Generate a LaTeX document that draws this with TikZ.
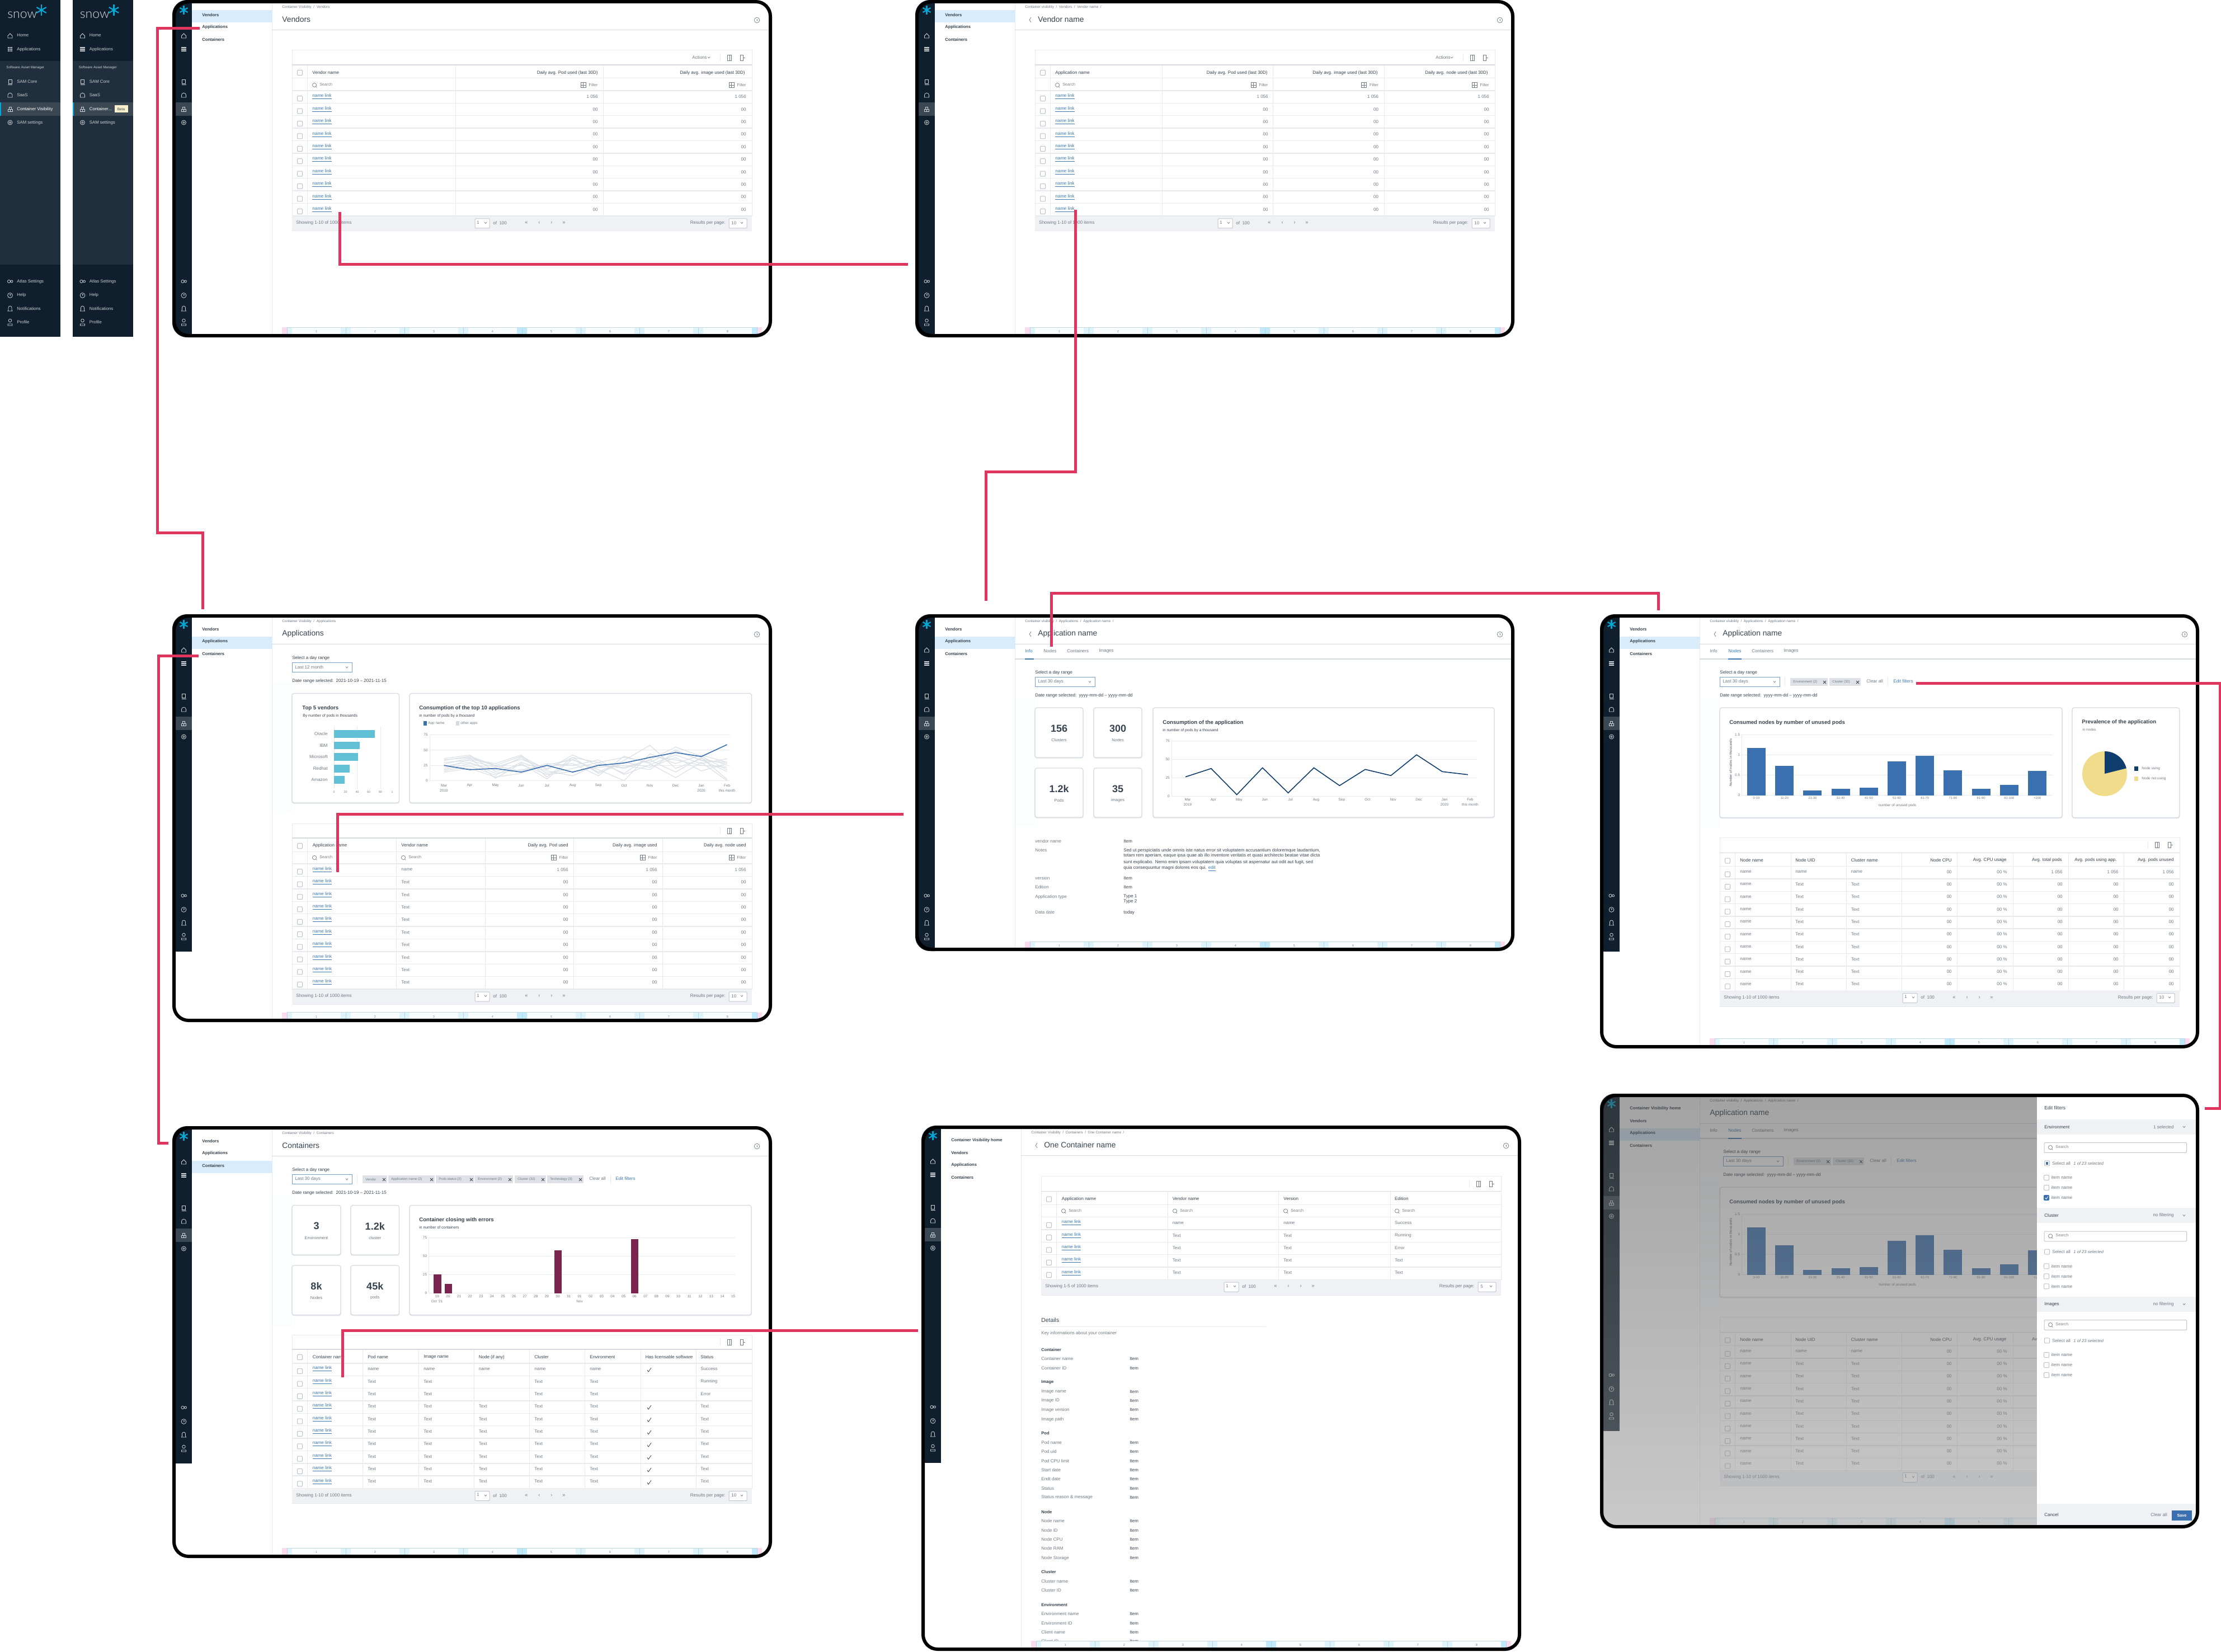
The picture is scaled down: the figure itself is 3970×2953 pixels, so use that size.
\documentclass[tikz,border=0pt]{standalone}
\usepackage{fontspec}
\setmainfont{Liberation Sans}
\newfontfamily\logofont{Lato Light}

\definecolor{raildark}{HTML}{0F1F2D}
\definecolor{railmid}{HTML}{1F2F3D}
\definecolor{railon}{HTML}{3A4853}
\definecolor{snowcyan}{HTML}{00A9D6}
\definecolor{navon}{HTML}{D9ECFB}
\definecolor{inktxt}{HTML}{36424E}
\definecolor{graytxt}{HTML}{6F7A85}
\definecolor{linkblue}{HTML}{3C78B4}
\definecolor{hairline}{HTML}{E6E9ED}
\definecolor{headline}{HTML}{D5DAE1}
\definecolor{barband}{HTML}{EFF1F4}
\definecolor{chipgray}{HTML}{DEE2E6}
\definecolor{teal}{HTML}{62C0D6}
\definecolor{barblue}{HTML}{3A6FB0}
\definecolor{navyline}{HTML}{0F3D6E}
\definecolor{plum}{HTML}{7A2450}
\definecolor{sand}{HTML}{F1DC8C}
\definecolor{flowred}{HTML}{E0355F}
\definecolor{shade}{HTML}{374855}
\definecolor{palecol}{HTML}{FAFEFF}

\tikzset{
  txt/.style={inner sep=0pt,anchor=west,text=graytxt,font=\fontsize{4}{4.8}\selectfont},
  hdr/.style={text=inktxt},
  rgt/.style={anchor=east},
  mid/.style={anchor=center},
  lnk/.style={text=linkblue},
  crumb/.style={font=\fontsize{3.2}{4}\selectfont},
  ttl/.style={text=inktxt,font=\fontsize{6.9}{8}\selectfont},
  cardttl/.style={text=inktxt,font=\bfseries\fontsize{4.8}{6}\selectfont},
  cardsub/.style={text=inktxt,font=\fontsize{3.4}{4}\selectfont},
  ax/.style={anchor=center,font=\fontsize{3.2}{4}\selectfont},
  bignum/.style={anchor=center,text=inktxt,font=\bfseries\fontsize{9}{10}\selectfont},
  navtxt/.style={text=inktxt,font=\bfseries\fontsize{3.8}{4.6}\selectfont},
  striptxt/.style={text=white!78!raildark,font=\fontsize{3.9}{4.6}\selectfont},
  hair/.style={draw=hairline,line width=.5pt},
  headrule/.style={draw=headline,line width=.9pt},
  cardbox/.style={draw=headline,fill=white,line width=.6pt,rounded corners=1.8pt,
    preaction={draw=hairline,line width=.7pt,transform canvas={yshift=-.6pt}}},
  thinbox/.style={draw=headline!80!graytxt,fill=white,line width=.5pt,rounded corners=.6pt},
  navicon/.style={draw=white!80!raildark,fill=none,line width=.4pt},
  tinyicon/.style={draw=graytxt,fill=none,line width=.35pt},
  frameline/.style={draw=black,line width=3pt,rounded corners=13pt},
  flow/.style={draw=flowred,line width=2.5pt},
}

\newcounter{lblno}
\newcommand{\lbl}[3][]{\stepcounter{lblno}\node[txt,#1] (lbl\arabic{lblno}) at (#2) {#3};}
\newcommand{\nlink}{\underline{name link}}

%% one framed page of the flow
\newenvironment{screen}[5]{%
  \def\scrw{#4}\def\scrh{#5}%
  \begin{scope}[shift={(#2,#3)}]
  \coordinate (#1) at (0,0);
  \fill[white,rounded corners=13pt] (0,0) rectangle (\scrw,\scrh);
  \begin{scope}
  \clip[rounded corners=13pt] (0,0) rectangle (\scrw,\scrh);
  \fill[raildark] (0,0) rectangle (35,603);
  \fill[railon] (6,183) rectangle (35,207);
  \snowmark{20.5}{18}{4pt}
  \navicons{20.5}
}{%
  \end{scope}
  \draw[frameline] (3,3) rectangle ({\scrw-3},{\scrh-3});
  \end{scope}}

\newcommand{\snowmark}[3]{\foreach \a in {90,30,-30}
  \draw[snowcyan,line width=1.1pt] (#1,#2) ++(\a:#3) -- ++(\a+180:2*#3);}

\newcommand{\navicons}[1]{\begin{scope}[shift={(#1,0)},every path/.style={navicon}]
  \draw (-4,64) -- (0,60) -- (4,64) -- (4,68) -- (-4,68) -- cycle;
  \foreach \a in {-3,0,3} \foreach \b in {85,88,91} \draw[fill=white!80!raildark] ({\a-.8},{\b-.8}) rectangle ++(1.6,1.6);
  \draw (-3,142) rectangle (3,149) (-4,151) -- (4,151);
  \draw (-4,174) -- (-4,170) .. controls (-4,165) and (4,165) .. (4,170) -- (4,174) -- cycle;
  \draw (-4,199) rectangle (4,195) (-2,195) rectangle (2,191) (0,195) -- (0,199);
  \draw (0,219) circle[radius=2pt] (0,219) circle[radius=.8pt];
  \draw (-2,503) circle[radius=1.3pt] (3,503) circle[radius=1pt];
  \draw (0,528) circle[radius=2.2pt] (-1,526.5) -- (1,526.5) -- (0,529);
  \draw (-4,556) -- (-3,554) -- (-3,550) .. controls (-3,546) and (3,546) .. (3,550) -- (3,554) -- (4,556) -- cycle;
  \draw (0,573) circle[radius=1.4pt] (-4,582) -- (-4,579) -- (4,579) -- (4,582) -- cycle;
\end{scope}}

\newcommand{\snowstrip}[2]{\begin{scope}[shift={(#1,0)}]
  \fill[raildark] (0,0) rectangle (108,602);
  \fill[railmid] (0,109) rectangle (108,473);
  \fill[railon] (0,183) rectangle (108,207);
  \fill[snowcyan] (0,183) rectangle (2,207);
  \lbl[text=white!85!raildark,font=\logofont\fontsize{11.5}{13}\selectfont]{13,27}{snow}
  \snowmark{74}{18}{5pt}
  \navicons{18}
  \foreach \y/\t in {63/Home,88/Applications,146/SAM Core,170/SaaS,219/SAM settings,503/Atlas Settings,527.5/Help,552/Notifications,576/Profile}
    {\lbl[striptxt]{30,\y}{\t}}
  \lbl[striptxt,font=\fontsize{3.1}{4}\selectfont]{11,121}{Software Asset Manager}
  #2
\end{scope}}

\newcommand{\subnav}[2]{%
  \draw[hair] (178,0) -- (178,\scrh);
  \ifnum#1>0 \fill[navon] (35,{18+22*(#1-1)}) rectangle (178,{40+22*(#1-1)});\fi
  \foreach \t [count=\c from 0] in {#2} {\lbl[navtxt]{53,{27+22*\c}}{\t}}}

\newcommand{\paleband}[2]{\fill[palecol] (178.5,#1) rectangle (214,#2);}
\newcommand{\helpicon}{\draw[tinyicon] (1045,36) circle[radius=2.4pt] (1044,35) -- (1046,35) -- (1045,38);}
\newcommand{\pagehead}[2]{%
  \lbl[crumb]{196,13}{#1}
  \lbl[ttl]{196,35}{#2}
  \draw[headrule] (178,53.5) -- (\scrw,53.5);
  \helpicon}
\newcommand{\backhead}[2]{%
  \lbl[crumb]{196,13}{#1}
  \lbl[ttl]{219,35}{#2}
  \draw[tinyicon] (207,31) -- (204,35.5) -- (207,40);
  \draw[headrule] (178,53.5) -- (\scrw,53.5);
  \helpicon}

\newcommand{\gridstrip}[1]{%
  \fill[magenta!14] (196,#1) rectangle (1054,{#1+20});
  \fill[cyan!2] (205,#1) rectangle (1045,{#1+20});
  \foreach \i in {0,...,8} {
    \pgfmathsetmacro{\gx}{205+105*\i}
    \ifnum\i=4 \colorlet{bandc}{cyan!25}\else\ifnum\i=8 \colorlet{bandc}{cyan!25}\else\colorlet{bandc}{cyan!13}\fi\fi
    \ifnum\i=0 \fill[bandc] (\gx,#1) rectangle ({\gx+9},{#1+20});
    \else\ifnum\i=8 \fill[bandc] ({\gx-9},#1) rectangle (\gx,{#1+20});
    \else \fill[bandc] ({\gx-9},#1) rectangle ({\gx+9},{#1+20});\fi\fi
    \draw[cyan!30!gray!45,line width=.5pt] (\gx,#1) -- (\gx,{#1+20});
  }
  \draw[cyan!30!gray!40,line width=.5pt] (205,#1) -- (1045,#1);
  \foreach \i in {1,...,8} {\lbl[ax,text=gray,font=\fontsize{2.8}{3}\selectfont]{{152.5+105*\i},{#1+8}}{\i}}}

\newcommand{\chevd}[2]{\draw[tinyicon] ({#1-2},{#2-1.5}) -- ({#1},{#2+1}) -- ({#1+2},{#2-1.5});}
\newcommand{\checkbox}[2]{\draw[thinbox,draw=headline!75!graytxt] ({#1-4.5},{#2-4.5}) rectangle ({#1+4.5},{#2+4.5});}
\newcommand{\tickmark}[2]{\draw[inktxt,line width=.4pt] ({#1-3},{#2}) -- ({#1-1},{#2+3}) -- ({#1+4},{#2-4});}
\newcommand{\searchcell}[2]{%
  \draw[tinyicon] ({#1},{#2}) circle[radius=1.8pt] ({#1+2.5},{#2+2.5}) -- ({#1+4},{#2+4.5});
  \lbl[text=gray,font=\fontsize{3.6}{4}\selectfont]{{#1+9},{#2-1}}{Search}}
\newcommand{\filtercell}[2]{%
  \lbl[rgt,text=gray,font=\fontsize{3.6}{4}\selectfont]{#1,#2}{Filter}
  \draw[tinyicon] ({#1-31},{#2-4.5}) rectangle ({#1-22},{#2+4.5}) ({#1-26.5},{#2-4.5}) -- ({#1-26.5},{#2+4.5}) ({#1-31},#2) -- ({#1-22},#2);}

%% x0, x1, top of toolbar, head rule, first row line, pitch, rows, column rules
\newcommand{\tabframe}[8]{%
  \draw[hair] (#1,#3) rectangle (#2,{#5+#6*#7});
  \foreach \r in {0,...,#7} {\draw[hair,line width=.7pt] (#1,{#5+#6*\r}) -- (#2,{#5+#6*\r});}
  \foreach \k in {#8} {\draw[hair] (\k,#4) -- (\k,{#5+#6*#7});}
  \draw[headrule] (#1,#4) -- (#2,#4);
  \checkbox{228}{#4+14}
  \foreach \r in {1,...,#7} {\checkbox{228}{#5+#6*(\r-.5)+3}}
  \pgfmathsetmacro{\ty}{(#3+#4)/2}
  \draw[hair] ({#2-57},{\ty-6}) -- ({#2-57},{\ty+6});
  \draw[tinyicon] ({#2-43.5},{\ty-5}) rectangle ({#2-36.5},{\ty+5}) ({#2-40},{\ty-5}) -- ({#2-40},{\ty+5});
  \draw[tinyicon] ({#2-21},{\ty-5}) -- ({#2-16},{\ty-5}) -- ({#2-16},{\ty+5}) -- ({#2-21},{\ty+5}) -- cycle ({#2-16},\ty) -- ({#2-12},\ty);}

\newcommand{\tabcol}[7][]{%
  \lbl[#1]{#2,#3}{#6}
  \foreach \r in {1,...,#5} {\lbl[#1]{#2,{#3+#4*\r}}{#7}}}

\newcommand{\pager}[4]{%
  \fill[barband] (214,#1) rectangle (1036,#2);
  \draw[hair] (214,#2) -- (1036,#2);
  \pgfmathsetmacro{\py}{#1+11.5}
  \lbl{221,\py}{#3}
  \draw[thinbox] (541,{#1+4}) rectangle (567,{#1+21});
  \lbl{544,{\py-1}}{1}
  \chevd{560}{\py}
  \lbl{573,\py}{of\ \ 100}
  \foreach \x/\m in {633/«,656/‹,678/›,700/»} {\lbl[mid,font=\fontsize{4.6}{5}\selectfont]{\x,\py}{\m}}
  \lbl[rgt]{989,\py}{Results per page:}
  \draw[thinbox] (995,{#1+4}) rectangle (1027,{#1+21});
  \lbl{999,\py}{#4}
  \chevd{1018}{\py}}

\newcommand{\rangepick}[4]{%
  \lbl[hdr]{#1,#2}{Select a day range}
  \draw[draw=linkblue!70,fill=white,line width=.5pt] (#1,{#2+8.5}) rectangle ({#1+107},{#2+25.5});
  \lbl{{#1+5},{#2+16.5}}{#3}
  \chevd{#1+98}{#2+17}
  \lbl[hdr]{#1,{#2+41}}{#4}}

\newcommand{\chip}[4]{%
  \fill[chipgray] (#1,#3) rectangle (#2,{#3+14});
  \lbl[font=\fontsize{3}{3.6}\selectfont]{{#1+5},{#3+7}}{#4}
  \draw[inktxt,line width=.4pt] ({#2-8},{#3+5}) -- ({#2-3},{#3+10}) ({#2-3},{#3+5}) -- ({#2-8},{#3+10});}

\newcommand{\statcard}[6]{%
  \draw[cardbox] (#1,#2) rectangle (#3,#4);
  \lbl[bignum]{{(#1+#3)/2},{#2+37}}{#5}
  \lbl[ax,font=\fontsize{3.7}{4.2}\selectfont]{{(#1+#3)/2},{#2+58}}{#6}}

\newcommand{\hgrid}[5]{\foreach \t [count=\c from 0] in {#5} {
    \draw[hair] (#1,{#3+(#4-#3)*\c/3}) -- (#2,{#3+(#4-#3)*\c/3});
    \lbl[rgt,font=\fontsize{3.2}{4}\selectfont]{{#1-3},{#3+(#4-#3)*\c/3}}{\t}}
  \draw[hair] (#1,#3) -- (#1,#4);}

\newcommand{\monthaxis}[4]{%
  \foreach \m [count=\c from 0] in {Mar,Apr,May,Jun,Jul,Aug,Sep,Oct,Nov,Dec,Jan,Feb} {\lbl[ax]{{#1+#2*\c},#3}{\m}}
  \lbl[ax]{#1,#4}{2019}
  \lbl[ax]{{#1+#2*10},#4}{2020}
  \lbl[ax]{{#1+#2*11},#4}{this month}}

\newcommand{\plotline}[7]{\draw[#1] ({#2},{#4-#5*#6}) \foreach \v [count=\c] in #7 { -- ({#2+#3*\c},{#4-#5*\v}) };}

\newcommand{\tabbar}[1]{%
  \foreach \x/\t [count=\c] in {196/Info,229/Nodes,271/Containers,328/Images} {
    \ifnum\c=#1 \colorlet{tabc}{linkblue}\else\colorlet{tabc}{graytxt}\fi
    \lbl[text=tabc]{\x,66}{\t}}
  \draw[headrule] (178,80) -- (\scrw,80);
  \ifnum#1=1 \draw[linkblue,line width=.8pt] (196,80) -- (212,80);\else \draw[linkblue,line width=.8pt] (229,80) -- (253,80);\fi}

%% body of the Nodes tab, shared with the page under the filter drawer
\newcommand{\nodesbody}[1]{%
  \paleband{150}{383}
  \begin{scope}[shift={(#1,0)}]
  \rangepick{214}{104}{Last 30 days}{Date range selected:\ \ yyyy-mm-dd – yyyy-mm-dd}
  \draw[hair] (330,112) -- (330,129);
  \chip{340}{407}{114}{Environment (2)}
  \chip{410}{466}{114}{Cluster (32)}
  \lbl{476,120}{Clear all}
  \draw[hair] (514,112) -- (514,129);
  \lbl[lnk]{524,120}{Edit filters}
  \end{scope}
  \draw[cardbox] (214,167) rectangle (826,363.5);
  \lbl[cardttl]{231,194}{Consumed nodes by number of unused pods}
  \hgrid{253.5}{808.5}{215}{323.7}{1.5,1,0.5,0}
  \foreach \bh/\bt [count=\c from 0] in {85/0-10,53/11-20,9/21-30,12/31-40,13.5/41-50,61/51-60,71/61-70,45/71-80,12/81-90,19/91-100,44/+100} {
    \fill[barblue] ({263+50.2*\c},{323.7-\bh}) rectangle ({296+50.2*\c},323.7);
    \lbl[ax,font=\fontsize{2.9}{3.4}\selectfont]{{279.5+50.2*\c},328.5}{\bt}}
  \lbl[ax,rotate=90,font=\bfseries\fontsize{2.9}{3.4}\selectfont]{233.5,265}{Number of nodes in thousands}
  \lbl[ax]{531.5,341.5}{number of unused pods}
  \draw[cardbox] (844,167) rectangle (1035.7,363.5);
  \lbl[cardttl]{861,193}{Prevalence of the application}
  \lbl[crumb]{862,206}{in nodes}
  \fill[sand] (902,285) circle[radius=20pt];
  \fill[navyline] (902,285) -- ++(90:20pt) arc[start angle=90,end angle=14,radius=20pt] -- cycle;
  \fill[navyline] (955,272) rectangle (962,280);
  \fill[sand] (955,290) rectangle (962,298);
  \lbl[crumb]{968,276}{Node using}
  \lbl[crumb]{968,294}{Node not using}
  \tabframe{214}{1036}{399}{426.5}{450.6}{22.3}{10}{241,341,440,539,638.5,738,837,936}
  \foreach \x/\t in {250/Node name,349/Node UID,448.5/Cluster name} {\lbl[hdr]{\x,439.5}{\t}}
  \foreach \x/\t in {629/Node CPU,727/Avg. CPU usage,826/Avg. total pods,924/Avg. pods using app.,1026/Avg. pods unused} {\lbl[hdr,rgt]{\x,439.5}{\t}}
  \tabcol{250}{460.5}{22.3}{9}{name}{name}
  \tabcol{349}{460.5}{22.3}{9}{name}{Text}
  \tabcol{448.5}{460.5}{22.3}{9}{name}{Text}
  \tabcol[rgt]{629}{460.5}{22.3}{9}{00}{00}
  \tabcol[rgt]{728}{460.5}{22.3}{9}{00 \%}{00 \%}
  \tabcol[rgt]{827}{460.5}{22.3}{9}{1 056}{00}
  \tabcol[rgt]{927}{460.5}{22.3}{9}{1 056}{00}
  \tabcol[rgt]{1026}{460.5}{22.3}{9}{1 056}{00}
  \pager{673.5}{701}{Showing 1-10 of 1000 items}{10}
  \gridstrip{758}}

\newcommand{\filtersec}[3]{%
  \fill[barband] (780.7,#1) rectangle (1071,{#1+26.8});
  \lbl[hdr]{794,{#1+13.5}}{#2}
  \lbl[rgt]{1026,{#1+13.5}}{#3}
  \chevd{1044}{#1+13.5}
  \draw[thinbox] (794,{#1+41.6}) rectangle (1048.6,{#1+59.4});
  \searchcell{805}{#1+50}
  \checkbox{799}{#1+78.3}
  \lbl{808,{#1+78.3}}{Select all}
  \lbl[font=\itshape\fontsize{3.8}{4.4}\selectfont]{846,{#1+78.3}}{1 of 23 selected}
  \foreach \y in {104,122,140} {\checkbox{798}{#1+\y} \lbl{806.5,{#1+\y}}{item name}}}

\begin{document}
\begin{tikzpicture}[x=0.5pt,y=-0.5pt]
  \path[use as bounding box,fill=white] (0,0) rectangle (3970,2953);

  %% the two states of the product menu
  \snowstrip{0}{\lbl[striptxt,text=white]{30,195}{Container Visibility}}
  \snowstrip{129.5}{\lbl[striptxt,text=white]{30,195}{Container...}
    \fill[sand!45] (75,188) rectangle (99,201.5);
    \lbl[ax,text=inktxt]{87,195}{Beta}}

  %% Vendors
  \begin{screen}{vendors}{308}{0}{1072}{603}
    \subnav{1}{Vendors,Applications,Containers}
    \pagehead{Container Visibility\ \ /\ \ Vendors}{Vendors}
    \tabframe{214}{1036}{90}{116}{162}{22.4}{10}{241,506,770}
    \draw[hair] (214,140) -- (1036,140);
    \lbl{929,103}{Actions}
    \chevd{959}{103}
    \lbl[hdr]{250,130}{Vendor name}
    \lbl[hdr,rgt]{761,130}{Daily avg. Pod used (last 30D)}
    \lbl[hdr,rgt]{1024,130}{Daily avg. image used (last 30D)}
    \searchcell{254}{152}
    \filtercell{761}{152}
    \filtercell{1026}{152}
    \tabcol[lnk]{250}{173}{22.4}{9}{\nlink}{\nlink}
    \tabcol[rgt]{761}{173}{22.4}{9}{1 056}{00}
    \tabcol[rgt]{1026}{173}{22.4}{9}{1 056}{00}
    \pager{387}{413}{Showing 1-10 of 1000 items}{10}
    \gridstrip{585}
  \end{screen}

  %% Vendor name
  \begin{screen}{vendorname}{1636}{0}{1071}{603}
    \subnav{1}{Vendors,Applications,Containers}
    \backhead{Container visibility\ \ /\ \ Vendors\ \ /\ \ Vendor name\ \ /}{Vendor name}
    \tabframe{214}{1036}{90}{116}{162}{22.4}{10}{241,441,639,838}
    \draw[hair] (214,140) -- (1036,140);
    \lbl{930,103}{Actions}
    \chevd{959}{103}
    \lbl[hdr]{250,130}{Application name}
    \lbl[hdr,rgt]{630,130}{Daily avg. Pod used (last 30D)}
    \lbl[hdr,rgt]{827,130}{Daily avg. image used (last 30D)}
    \lbl[hdr,rgt]{1024,130}{Daily avg. node used (last 30D)}
    \searchcell{254}{152}
    \filtercell{631}{152}
    \filtercell{828.5}{152}
    \filtercell{1026}{152}
    \tabcol[lnk]{250}{173}{22.4}{9}{\nlink}{\nlink}
    \tabcol[rgt]{631}{173}{22.4}{9}{1 056}{00}
    \tabcol[rgt]{828.5}{173}{22.4}{9}{1 056}{00}
    \tabcol[rgt]{1026}{173}{22.4}{9}{1 056}{00}
    \pager{387}{413}{Showing 1-10 of 1000 items}{10}
    \gridstrip{585}
  \end{screen}

  %% Applications
  \begin{screen}{applications}{308}{1098}{1072}{729}
    \subnav{2}{Vendors,Applications,Containers}
    \pagehead{Container Visibility\ \ /\ \ Applications}{Applications}
    \paleband{122}{355}
    \rangepick{214}{78}{Last 12 month}{Date range selected:\ \ 2021-10-19 – 2021-11-15}
    \draw[cardbox] (214,141.5) rectangle (405.5,337);
    \lbl[cardttl]{232,168.5}{Top 5 vendors}
    \lbl[cardsub]{233,182}{By number of pods in thousands}
    \foreach \x in {289,330.5,372} {\draw[hair] (\x,200) -- (\x,312);}
    \foreach \t/\ya/\yb/\e in {Oracle/207/221/362,IBM/228/241/335,Microsoft/248/262/332,Redhat/269/282.5/317,Amazon/289/303/308} {
      \fill[teal] (289,\ya) rectangle (\e,\yb);
      \lbl[rgt]{278,{(\ya+\yb)/2}}{\t}}
    \foreach \x/\t in {289/0,309.5/20,330.5/40,351/60,372/80,393/1} {\lbl[ax,font=\fontsize{2.6}{3}\selectfont]{\x,318}{\t}}
    \draw[cardbox] (424,141.5) rectangle (1035.5,337);
    \lbl[cardttl]{441,168.5}{Consumption of the top 10 applications}
    \lbl[cardsub]{441,182}{in number of pods by a thousand}
    \fill[barblue] (449,191) rectangle (455,199);
    \lbl[crumb]{457,195}{App name}
    \fill[headline] (507,191) rectangle (513,199);
    \lbl[crumb]{515,195}{other apps}
    \hgrid{460}{997}{215.5}{297.5}{75,50,25,0}
    \monthaxis{485.6}{46}{306}{315}
    \foreach \ya/\yb in {
      30/{33,22,35,20,38,30,38,30,50,33,30},
      33/{40,25,40,18,42,25,22,34,55,40,18},
      27/{37,4,28,3,35,14,33,58,20,36,27},
      24/{30,12,18,24,28,8,40,28,5,30,0},
      18/{28,18,38,12,20,30,12,40,34,25,22},
      14/{20,6,12,26,34,18,0,44,28,42,30},
      36/{42,15,26,10,15,22,25,18,48,34,15},
      20/{35,28,42,6,38,12,30,22,38,16,28},
      16/{24,9,30,16,8,27,20,34,14,38,2},
      34/{38,24,16,28,25,34,10,26,42,28,36}}
      {\plotline{draw=headline!85,line width=.6pt}{485.6}{46}{297.5}{1.093}{\ya}{\yb}}
    \plotline{draw=barblue,line width=.8pt}{485.6}{46}{297.5}{1.093}{25}{{18,20,14,25,14,25,29,38,46,39.5,59}}
    \tabframe{214}{1036}{374}{400}{446}{22.4}{10}{241,400.5,559,717.5,876}
    \draw[hair] (214,424) -- (1036,424);
    \lbl[hdr]{250.5,413}{Application name}
    \lbl[hdr]{409,413}{Vendor name}
    \lbl[hdr,rgt]{708,413}{Daily avg. Pod used}
    \lbl[hdr,rgt]{867,413}{Daily avg. image used}
    \lbl[hdr,rgt]{1026,413}{Daily avg. node used}
    \searchcell{254}{435}
    \searchcell{413}{435}
    \foreach \x in {708,867,1026} {\filtercell{\x}{435}}
    \tabcol[lnk]{250.5}{456.5}{22.4}{9}{\nlink}{\nlink}
    \tabcol{409}{456.5}{22.4}{9}{name}{Text}
    \foreach \x in {708,867,1026} {\tabcol[rgt]{\x}{456.5}{22.4}{9}{1 056}{00}}
    \pager{671}{697.5}{Showing 1-10 of 1000 items}{10}
    \gridstrip{711.5}
  \end{screen}

  %% Application name, Info tab
  \begin{screen}{appinfo}{1636}{1098}{1071}{602}
    \subnav{2}{Vendors,Applications,Containers}
    \backhead{Container visibility\ \ /\ \ Applications\ \ /\ \ Application name\ \ /}{Application name}
    \tabbar{1}
    \paleband{150}{380}
    \rangepick{214}{104}{Last 30 days}{Date range selected:\ \ yyyy-mm-dd – yyyy-mm-dd}
    \statcard{214}{167}{300}{256}{156}{Clusters}
    \statcard{319}{167}{405}{256}{300}{Nodes}
    \statcard{214}{275}{300}{363}{1.2k}{Pods}
    \statcard{319}{275}{405}{363}{35}{images}
    \draw[cardbox] (425,167) rectangle (1035,363);
    \lbl[cardttl]{442,194}{Consumption of the application}
    \lbl[cardsub]{442,208}{in number of pods by a thousand}
    \hgrid{458}{1004}{226}{325}{75,50,25,0}
    \monthaxis{487}{45.9}{331.5}{340}
    \plotline{draw=navyline,line width=.8pt}{483}{45.9}{325}{1.32}{26}{{37.3,1.9,38.3,4.3,38.3,14.2,36.1,27.8,55.9,33.1,29}}
    \foreach \y/\t/\vv in {406/vendor name/Item,422/Notes/{Sed ut perspiciatis unde omnis iste natus error sit voluptatem accusantium doloremque laudantium,},472/version/Item,488/Edition/Item,505/Application type/Type 1,533/Data date/today}
      {\lbl{214,\y}{\t} \lbl[hdr]{372,\y}{\vv}}
    \lbl[hdr]{372,431}{totam rem aperiam, eaque ipsa quae ab illo inventore veritatis et quasi architecto beatae vitae dicta}
    \lbl[hdr]{372,443}{sunt explicabo. Nemo enim ipsam voluptatem quia voluptas sit aspernatur aut odit aut fugit, sed}
    \lbl[hdr]{372,455}{quia consequuntur magni dolores eos qui. {\color{linkblue}\underline{edit}}}
    \lbl[hdr]{372,514}{Type 2}
    \gridstrip{585}
  \end{screen}

  %% Application name, Nodes tab
  \begin{screen}{appnodes}{2860}{1098}{1071}{776}
    \subnav{2}{Vendors,Applications,Containers}
    \backhead{Container visibility\ \ /\ \ Applications\ \ /\ \ Application name\ \ /}{Application name}
    \tabbar{2}
    \nodesbody{0}
  \end{screen}

  %% Containers
  \begin{screen}{containers}{308}{2013}{1072}{772}
    \subnav{3}{Vendors,Applications,Containers}
    \pagehead{Container Visibility\ \ /\ \ Containers}{Containers}
    \paleband{122}{357}
    \rangepick{214}{78}{Last 30 days}{Date range selected:\ \ 2021-10-19 – 2021-11-15}
    \draw[hair] (330.5,87) -- (330.5,103);
    \foreach \xa/\xb/\t in {340/384/Vendor,386/469/Application name (2),471/540/Pods status (2),541/609/Environment (2),612/668/Cluster (32),670/735/Technology (3)}
      {\chip{\xa}{\xb}{88}{\t}}
    \lbl{745,94}{Clear all}
    \draw[hair] (783,87) -- (783,103);
    \lbl[lnk]{792,94}{Edit filters}
    \statcard{214}{141.5}{301}{230}{3}{Environment}
    \statcard{319}{141.5}{405.5}{230}{1.2k}{cluster}
    \statcard{214}{249}{301}{337.5}{8k}{Nodes}
    \statcard{319}{249}{405.5}{337.5}{45k}{pods}
    \draw[cardbox] (424,141.5) rectangle (1035,337.5);
    \lbl[cardttl]{441,168}{Container closing with errors}
    \lbl[cardsub]{441,181.5}{in number of containers}
    \hgrid{458.5}{1006}{199}{298.7}{75,50,25,0}
    \foreach \xa/\xb/\ya in {467/480.5/264.5,487/500/282,682.7/696/221.7,820/832.7/202}
      {\fill[plum] (\xa,\ya) rectangle (\xb,298.7);}
    \foreach \d [count=\c from 0] in {19,20,21,22,23,24,25,26,27,28,29,30,31,01,02,03,04,05,06,07,08,09,10,11,12,13,14,15}
      {\lbl[ax]{{473.4+19.6*\c},304}{\d}}
    \lbl[ax]{473,313.5}{Oct '21}
    \lbl[ax]{728,313.5}{Nov}
    \tabframe{214}{1036}{373.7}{399}{424}{22.35}{10}{241,340.5,440,539,638,737.5,837,936}
    \foreach \x/\t in {250.5/Container name,349/Pod name,449/Image name,547.5/Node (if any),647/Cluster,746/Environment,845.5/Has licensable software,944/Status}
      {\lbl[hdr]{\x,413}{\t}}
    \tabcol[lnk]{250.5}{434}{22.35}{9}{\nlink}{\nlink}
    \foreach \x in {349,449,647,746} {\tabcol{\x}{434}{22.35}{9}{name}{Text}}
    \lbl{547.5,434}{name}
    \foreach \r in {3,...,9} {
      \lbl{547.5,{434+22.35*\r}}{Text}
      \tickmark{852}{436+22.35*\r}}
    \tickmark{852}{436}
    \foreach \r/\t in {0/Success,1/Running,2/Error,3/Text,4/Text,5/Text,6/Text,7/Text,8/Text,9/Text}
      {\lbl{944,{434+22.35*\r}}{\t}}
    \pager{648.7}{674.8}{Showing 1-10 of 1000 items}{10}
    \gridstrip{754}
  \end{screen}

  %% One Container name
  \begin{screen}{onecontainer}{1647}{2012}{1072}{939}
    \subnav{0}{Container Visibility home,Vendors,Applications,Containers}
    \backhead{Container Visibility\ \ /\ \ Containers\ \ /\ \ One Container name\ \ /}{One Container name}
    \tabframe{214}{1036}{90.7}{117.5}{163.7}{22.3}{5}{241.4,440.7,638.6,838}
    \draw[hair] (214,141) -- (1036,141);
    \foreach \x/\t in {250.5/Application name,448.4/Vendor name,647/Version,845.6/Edition}
      {\lbl[hdr]{\x,131}{\t}}
    \foreach \x in {254,453,651,850} {\searchcell{\x}{152.5}}
    \tabcol[lnk]{250.5}{174}{22.3}{4}{\nlink}{\nlink}
    \tabcol{448.4}{174}{22.3}{4}{name}{Text}
    \tabcol{647}{174}{22.3}{4}{name}{Text}
    \foreach \r/\t in {0/Success,1/Running,2/Error,3/Text,4/Text} {\lbl{845.6,{174+22.3*\r}}{\t}}
    \pager{276}{303}{Showing 1-5 of 1000 items}{5}
    \lbl[hdr,font=\fontsize{5.2}{6}\selectfont]{214,348}{Details}
    \draw[hair,line width=.8pt] (214,359.5) -- (616,359.5);
    \lbl{214,371}{Key informations about your container}
    \foreach \y/\t in {400.8/Container,459/Image,550/Pod,691/Node,798/Cluster,857/Environment}
      {\lbl[hdr,font=\bfseries\fontsize{3.8}{4.6}\selectfont]{214,\y}{\t}}
    \foreach \y/\t in {417/Container name,433.6/Container ID,475.5/Image name,492/Image ID,508/Image version,525/Image path,567/Pod name,583/Pod uid,599.5/Pod CPU limit,616/Start date,632/Endt date,649/Status,665/Status reason \& message,707/Node name,723.5/Node ID,740/Node CPU,756/Node RAM,773/Node Storage,815/Cluster name,831/Cluster ID,873/Environment name,889.5/Environment ID,906/Client name,922/Client ID}
      {\lbl{214,\y}{\t} \lbl[hdr]{372,\y}{Item}}
    \gridstrip{921}
  \end{screen}

  %% filter drawer over the Nodes tab
  \begin{screen}{appfilter}{2860}{1955}{1071}{777}
    \subnav{3}{Container Visibility home,Vendors,Applications,Containers}
    \pagehead{Container visibility\ \ /\ \ Applications\ \ /\ \ Application name\ \ /}{Application name}
    \tabbar{2}
    \nodesbody{6}
    \fill[shade,opacity=.3] (0,0) rectangle (1071,777);
    \fill[white] (780.7,0) rectangle (1071,777);
    \lbl[hdr,font=\fontsize{4.3}{5}\selectfont]{794,25}{Edit filters}
    \lbl[ax,text=gray]{1059,13}{×}
    \filtersec{46}{Environment}{1 selected}
    \filtersec{204.4}{Cluster}{no filtering}
    \filtersec{363}{Images}{no filtering}
    \fill[linkblue] (797,121.5) rectangle (801,127);
    \draw[fill=barblue,draw=barblue,rounded corners=.6pt] (793.5,181.5) rectangle (802.5,190.5);
    \draw[white,line width=.4pt] (795.5,186) -- (797.5,188.5) -- (801,183.5);
    \fill[barband] (780.7,732.5) rectangle (1071,777);
    \lbl[hdr]{794,753}{Cancel}
    \lbl{984,753}{Clear all}
    \fill[barblue] (1022,745) rectangle (1058,763);
    \lbl[ax,text=white,font=\bfseries\fontsize{3.6}{4}\selectfont]{1040,754}{Save}
  \end{screen}

  %% links between the pages
  \coordinate (navapps) at (357,51);
  \coordinate (appstop) at (362,1089);
  \coordinate (vendorrow) at (607,379);
  \coordinate (vendorin) at (1623,473);
  \coordinate (vnamerow) at (1922,375);
  \coordinate (infotop) at (1762,1074);
  \coordinate (approw) at (603,1559);
  \coordinate (infoin) at (1615,1455);
  \coordinate (nodestab) at (1879,1156);
  \coordinate (nodestop) at (2964,1091);
  \coordinate (navconts) at (355,1172);
  \coordinate (contsin) at (301,2043);
  \coordinate (controw) at (612,2462);
  \coordinate (onein) at (1641,2378);
  \coordinate (editlink) at (3425,1221);
  \coordinate (drawerin) at (3941,1981);

  \draw[flow] (navapps) -- (281,51) -- (281,952) -| (appstop);
  \draw[flow] (vendorrow) |- (vendorin);
  \draw[flow] (vnamerow) -- (1922,843) -| (infotop);
  \draw[flow] (approw) |- (infoin);
  \draw[flow] (nodestab) -- (1879,1060) -| (nodestop);
  \draw[flow] (navconts) -- (283,1172) |- (contsin);
  \draw[flow] (controw) |- (onein);
  \draw[flow] (editlink) -- (3968,1221) |- (drawerin);
\end{tikzpicture}
\end{document}
